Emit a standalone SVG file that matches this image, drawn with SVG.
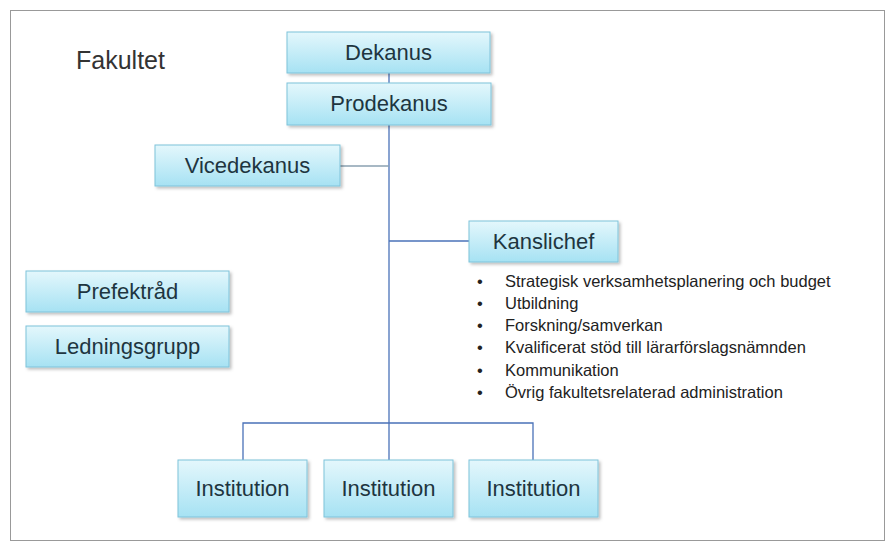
<svg xmlns="http://www.w3.org/2000/svg" width="894" height="549" viewBox="0 0 894 549">
<defs>
<linearGradient id="g" x1="0" y1="0" x2="0" y2="1"><stop offset="0" stop-color="#e4f7fc"/><stop offset="1" stop-color="#a6e2f3"/></linearGradient>
<filter id="s" x="-10%" y="-20%" width="130%" height="150%"><feDropShadow dx="2" dy="2" stdDeviation="1.5" flood-color="#000" flood-opacity="0.25"/></filter>
</defs>
<style>
.b{fill:url(#g);stroke:#7fc3da;stroke-width:1;filter:url(#s)}
.t{font-family:"Liberation Sans",Arial,sans-serif;font-size:22px;fill:#1e3540;text-anchor:middle}
.l{stroke:#4a72b8;stroke-width:1.3;fill:none}
.g2{stroke:#8aa0b0}
.bl{font-family:"Liberation Sans",Arial,sans-serif;font-size:16.5px;fill:#222}
</style>
<rect x="0" y="0" width="894" height="549" fill="#fff"/>
<rect x="10.5" y="10.5" width="874" height="530" fill="none" stroke="#999"/>
<text x="76" y="69" font-family="Liberation Sans,Arial,sans-serif" font-size="25" fill="#333">Fakultet</text>
<g id="connectors">
<path class="l" d="M389 73V460"/>
<path class="l g2" d="M340 166H389"/>
<path class="l" d="M389 241H469"/>
<path class="l" d="M243 460V423H533V460"/>
</g>
<g id="dekanus"><rect class="b" x="287" y="32" width="203" height="41"/><text class="t" x="388.5" y="60">Dekanus</text></g>
<g id="prodekanus"><rect class="b" x="287" y="83" width="204" height="42"/><text class="t" x="389" y="111">Prodekanus</text></g>
<g id="vicedekanus"><rect class="b" x="155" y="145" width="185" height="41"/><text class="t" x="247.5" y="173">Vicedekanus</text></g>
<g id="kanslichef"><rect class="b" x="469" y="221" width="149" height="41"/><text class="t" x="543.5" y="249">Kanslichef</text></g>
<g id="prefektrad"><rect class="b" x="26" y="271" width="203" height="41"/><text class="t" x="127.5" y="299">Prefektråd</text></g>
<g id="ledningsgrupp"><rect class="b" x="26" y="326" width="203" height="41"/><text class="t" x="127.5" y="354">Ledningsgrupp</text></g>
<g id="inst1"><rect class="b" x="178" y="460" width="129" height="57"/><text class="t" x="242.5" y="496">Institution</text></g>
<g id="inst2"><rect class="b" x="324" y="460" width="129" height="57"/><text class="t" x="388.5" y="496">Institution</text></g>
<g id="inst3"><rect class="b" x="469" y="460" width="129" height="57"/><text class="t" x="533.5" y="496">Institution</text></g>
<g id="tasks" class="bl">
<text x="477" y="287">•</text><text x="505" y="287">Strategisk verksamhetsplanering och budget</text>
<text x="477" y="309">•</text><text x="505" y="309">Utbildning</text>
<text x="477" y="331">•</text><text x="505" y="331">Forskning/samverkan</text>
<text x="477" y="353">•</text><text x="505" y="353">Kvalificerat stöd till lärarförslagsnämnden</text>
<text x="477" y="376">•</text><text x="505" y="376">Kommunikation</text>
<text x="477" y="398">•</text><text x="505" y="398">Övrig fakultetsrelaterad administration</text>
</g>
</svg>
